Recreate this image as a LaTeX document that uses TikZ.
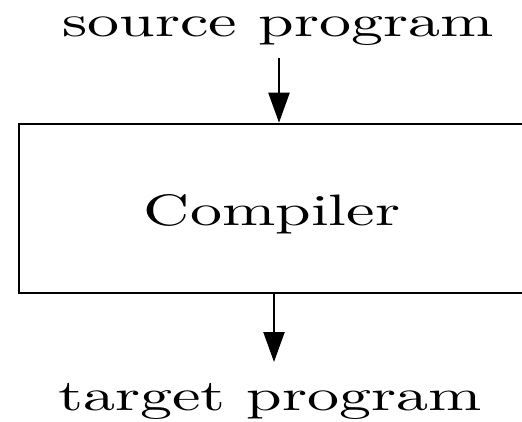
\documentclass[tikz,border=0pt]{standalone}
\usetikzlibrary{arrows.meta}
\begin{document}
\begin{tikzpicture}[x=1pt,y=-1pt,
  lbl/.style={inner sep=0pt,anchor=base,xscale=6.4,yscale=4.4},
  arr/.style={line width=2.2pt,-{Triangle[width=21pt,length=30pt]}},
  boxstyle/.style={draw,line width=2.6pt,inner sep=0pt,minimum width=521pt,minimum height=169pt}]
\useasboundingbox (0,0) rectangle (522,421);
\clip (0,0) rectangle (522,421);
\node[lbl] (src) at (278,36) {source program};
\node[boxstyle] (box) at (279.5,208.5) {};
\node[lbl] (comp) at (272,225) {Compiler};
\node[lbl] (tgt) at (270,410) {target program};
\coordinate (s) at (279,58);
\coordinate (t) at (274,362);
\draw[arr] (s) -- (box.north -| s);
\draw[arr] (box.south -| t) -- (t);
\end{tikzpicture}
\end{document}
